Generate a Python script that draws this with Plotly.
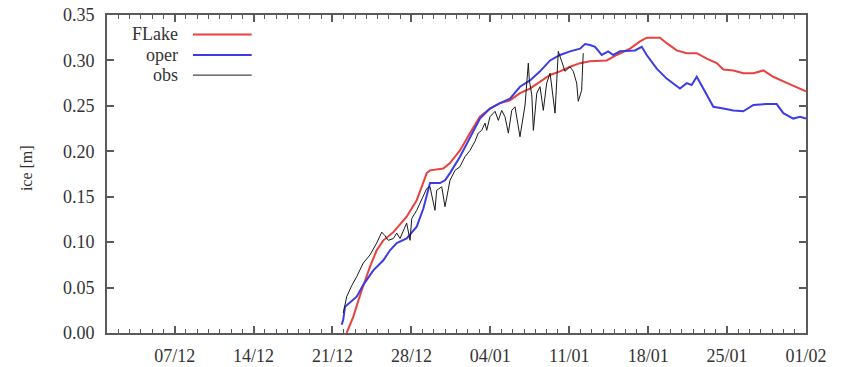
import pandas as pd
import plotly.graph_objects as go

# Ice thickness on the lake, winter season; time in days from 1 December
START = pd.Timestamp("2010-12-01")

flake_day = [21.26, 21.85, 22.59, 23.33, 23.92, 24.51, 25.40, 26.58, 27.47, 28.36,
             28.65, 29.83, 30.42, 31.31, 32.20, 33.08, 33.97, 34.86, 35.75, 36.63,
             37.52, 38.41, 39.30, 40.18, 41.07, 41.96, 42.84, 44.32, 45.21, 46.39,
             47.28, 47.87, 49.05, 49.64, 50.53, 51.42, 52.31, 53.19, 54.08, 54.67,
             55.56, 56.44, 57.33, 58.22, 59.10, 59.99, 60.87, 62.00]
flake_ice = [0.000, 0.018, 0.047, 0.073, 0.091, 0.102, 0.111, 0.128, 0.146, 0.176,
             0.179, 0.181, 0.187, 0.201, 0.220, 0.238, 0.247, 0.253, 0.256, 0.264,
             0.269, 0.277, 0.284, 0.288, 0.293, 0.297, 0.299, 0.300, 0.306, 0.313,
             0.321, 0.325, 0.325, 0.319, 0.311, 0.308, 0.308, 0.302, 0.297, 0.290,
             0.289, 0.286, 0.286, 0.289, 0.282, 0.277, 0.272, 0.266]

oper_day = [20.82, 20.96, 21.11, 21.55, 22.15, 22.73, 23.62, 24.51, 25.10, 25.70,
            26.58, 27.47, 28.06, 28.65, 29.54, 29.98, 30.42, 31.31, 32.20, 33.08,
            33.97, 34.86, 35.75, 36.63, 37.52, 38.41, 39.30, 40.18, 41.07, 41.96,
            42.40, 42.84, 43.29, 43.88, 44.46, 44.91, 45.50, 46.24, 46.83, 47.43,
            47.87, 48.76, 49.64, 50.82, 51.42, 51.86, 52.31, 52.89, 53.78, 54.67,
            55.56, 56.44, 57.33, 58.52, 59.40, 59.99, 60.87, 61.47, 62.00]
oper_ice = [0.009, 0.015, 0.029, 0.034, 0.040, 0.053, 0.069, 0.080, 0.091, 0.099,
            0.104, 0.117, 0.137, 0.165, 0.165, 0.168, 0.176, 0.194, 0.216, 0.236,
            0.247, 0.253, 0.258, 0.271, 0.278, 0.288, 0.300, 0.306, 0.310, 0.313,
            0.318, 0.317, 0.315, 0.306, 0.310, 0.306, 0.310, 0.311, 0.311, 0.315,
            0.306, 0.291, 0.280, 0.269, 0.275, 0.273, 0.282, 0.269, 0.249, 0.247,
            0.245, 0.244, 0.251, 0.252, 0.252, 0.242, 0.236, 0.238, 0.236]

obs_day = [20.96, 21.26, 21.70, 22.15, 22.73, 23.33, 23.92, 24.37, 24.66, 24.95,
           25.40, 25.70, 25.99, 26.30, 26.58, 26.88, 27.03, 27.47, 27.91, 28.36,
           28.65, 29.09, 29.24, 29.69, 29.98, 30.27, 30.42, 30.87, 31.31, 31.75,
           32.20, 32.64, 32.93, 33.23, 33.53, 33.68, 33.97, 34.42, 34.71, 35.01,
           35.30, 35.60, 35.90, 36.19, 36.63, 37.08, 37.37, 37.46, 37.68, 37.82,
           38.12, 38.41, 38.70, 39.00, 39.30, 39.74, 40.03, 40.33, 40.62, 41.07,
           41.36, 41.66, 41.80, 42.10, 42.24]
obs_ice = [0.022, 0.040, 0.052, 0.062, 0.077, 0.086, 0.099, 0.111, 0.107, 0.102,
           0.104, 0.110, 0.104, 0.112, 0.121, 0.102, 0.126, 0.135, 0.146, 0.159,
           0.161, 0.135, 0.157, 0.161, 0.139, 0.156, 0.168, 0.179, 0.183, 0.194,
           0.201, 0.211, 0.220, 0.223, 0.231, 0.223, 0.238, 0.244, 0.234, 0.245,
           0.238, 0.220, 0.245, 0.249, 0.216, 0.251, 0.297, 0.278, 0.262, 0.223,
           0.264, 0.271, 0.245, 0.275, 0.286, 0.242, 0.310, 0.299, 0.288, 0.293,
           0.288, 0.275, 0.255, 0.267, 0.308]

tick_dates = ["2010-12-07", "2010-12-14", "2010-12-21", "2010-12-28", "2011-01-04",
              "2011-01-11", "2011-01-18", "2011-01-25", "2011-02-01"]
tick_text = ["07/12", "14/12", "21/12", "28/12", "04/01", "11/01", "18/01", "25/01", "01/02"]

series = [
    ("FLake", flake_day, flake_ice, "#e8413f", 2.0),
    ("oper", oper_day, oper_ice, "#3c3ce6", 2.0),
    ("obs", obs_day, obs_ice, "#1a1a1a", 1.0),
]


def to_time(days):
    return START + pd.to_timedelta(pd.Series(days), unit="D")


FONT = "Liberation Serif"
AXIS_COLOR = "#5a5a5a"
TEXT_COLOR = "#333333"

fig = go.Figure()
for name, d, v, color, width in series:
    fig.add_trace(go.Scatter(x=to_time(d), y=v, mode="lines", name=name,
                             line=dict(color=color, width=width),
                             showlegend=False))

# key in the upper-left corner: right-aligned labels followed by line samples
key_y = [0.939, 0.874, 0.811]
for (name, _, _, color, width), ky in zip(series, key_y):
    fig.add_annotation(x=0.1044, y=ky, xref="paper", yref="paper", text=name,
                       showarrow=False, xanchor="right", yanchor="middle",
                       font=dict(family=FONT, size=18, color=TEXT_COLOR))
    fig.add_shape(type="line", xref="paper", yref="paper",
                  x0=0.123, x1=0.207, y0=ky, y1=ky,
                  line=dict(color=color, width=width))

# vertical axis caption
fig.add_annotation(x=-0.1152, y=0.52, xref="paper", yref="paper", text="ice [m]",
                   showarrow=False, textangle=-90, xanchor="center", yanchor="middle",
                   font=dict(family=FONT, size=16, color=TEXT_COLOR))

fig.update_layout(
    width=845, height=367,
    margin=dict(l=107, r=39, t=15, b=34),
    paper_bgcolor="white", plot_bgcolor="white",
    font=dict(family=FONT, size=18, color=TEXT_COLOR),
)
fig.update_xaxes(
    range=[START, pd.Timestamp("2011-02-01")],
    tickvals=pd.to_datetime(tick_dates), ticktext=tick_text,
    ticks="inside", ticklen=7, tickwidth=1.5, tickcolor=AXIS_COLOR,
    minor=dict(dtick=86400000, ticks="inside", ticklen=4, tickwidth=1, tickcolor=AXIS_COLOR),
    showline=True, linecolor=AXIS_COLOR, linewidth=2, mirror="ticks",
    showgrid=False, zeroline=False, ticklabelstandoff=5, automargin=False,
    tickfont=dict(family=FONT, size=18, color=TEXT_COLOR),
)
fig.update_yaxes(
    range=[0, 0.35], dtick=0.05, tickformat=".2f",
    ticks="inside", ticklen=7, tickwidth=1.5, tickcolor=AXIS_COLOR,
    showline=True, linecolor=AXIS_COLOR, linewidth=2, mirror="ticks",
    showgrid=False, zeroline=False, ticklabelstandoff=7, automargin=False,
    tickfont=dict(family=FONT, size=18, color=TEXT_COLOR),
)

fig.write_html("out.html")
